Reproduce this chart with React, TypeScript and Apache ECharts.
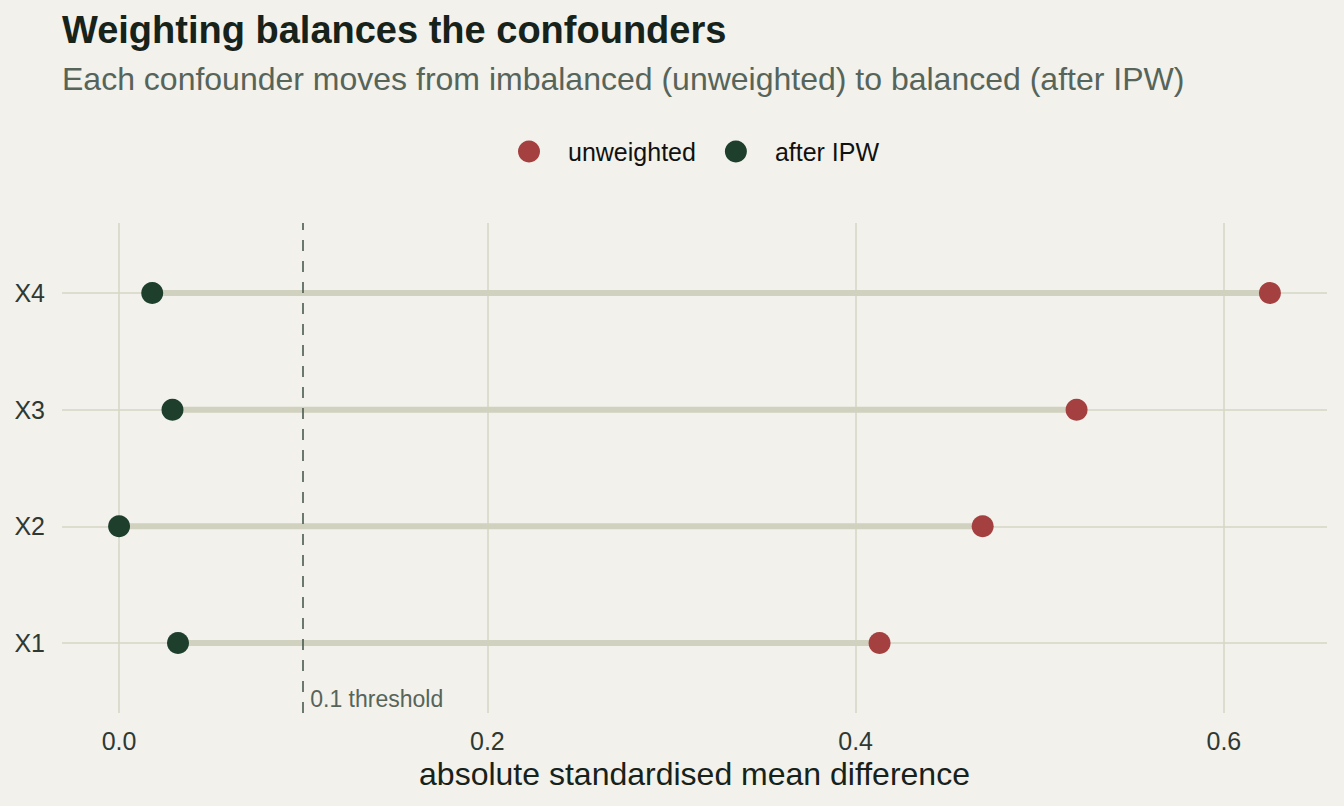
import React, { useEffect, useRef } from "react";
import * as echarts from "echarts";

const categories = ["X1", "X2", "X3", "X4"];
const unweighted = [0.413, 0.469, 0.52, 0.625];
const afterIPW = [0.032, 0.0, 0.029, 0.018];
const xTicks = [0, 0.2, 0.4, 0.6];
const threshold = 0.1;

const BG = "#f2f1eb";
const RED = "#a54040";
const GREEN = "#1f3f2d";
const SEG = "#d1d1bf";
const GRID = "#d6d6c6";
const FONT = "'Liberation Sans', Arial, Helvetica, sans-serif";

export default function App() {
  const ref = useRef<HTMLDivElement>(null);
  useEffect(() => {
    if (!ref.current) return;
    const chart = echarts.init(ref.current, null, { renderer: "svg" });
    const yIdx = categories.map((_, i) => i + 1);
    const segData = categories.map((_, i) => [afterIPW[i], unweighted[i], i + 1]);
    const option: any = {
      animation: false,
      backgroundColor: BG,
      textStyle: { fontFamily: FONT },
      title: [
        {
          text: "Weighting balances the confounders",
          left: 62,
          top: 11,
          padding: 0,
          textStyle: { fontFamily: FONT, fontSize: 38, fontWeight: "bold", color: "#16221a" },
        },
        {
          text: "Each confounder moves from imbalanced (unweighted) to balanced (after IPW)",
          left: 62,
          top: 63,
          padding: 0,
          textStyle: { fontFamily: FONT, fontSize: 32, fontWeight: "normal", color: "#56645a" },
        },
      ],
      legend: {
        top: 139,
        left: 518,
        padding: 0,
        icon: "circle",
        itemWidth: 22,
        itemHeight: 22,
        itemGap: 29,
        data: ["unweighted", "after IPW"],
        textStyle: { fontFamily: FONT, fontSize: 25, color: "#111", padding: [0, 0, 0, 23] },
      },
      grid: { left: 62, right: 17, top: 223, bottom: 93, containLabel: false },
      xAxis: {
        type: "value",
        min: -0.031,
        max: 0.656,
        name: "absolute standardised mean difference",
        nameLocation: "middle",
        nameGap: 45,
        nameTextStyle: { fontFamily: FONT, fontSize: 32, color: "#16221a" },
        axisLine: { show: false },
        axisTick: { show: false, customValues: xTicks },
        axisLabel: {
          customValues: xTicks,
          margin: 15,
          fontFamily: FONT,
          fontSize: 25,
          color: "#2e3933",
          formatter: (v: number) => v.toFixed(1),
        },
        splitLine: { show: true, lineStyle: { color: GRID, width: 1.5 } },
      },
      yAxis: {
        type: "value",
        min: 0.4,
        max: 4.6,
        axisLine: { show: false },
        axisTick: { show: false, customValues: yIdx },
        axisLabel: {
          customValues: yIdx,
          margin: 17,
          fontFamily: FONT,
          fontSize: 25,
          color: "#2e3933",
          formatter: (v: number) => categories[Math.round(v) - 1] ?? "",
        },
        splitLine: { show: true, lineStyle: { color: GRID, width: 1.5 } },
      },
      series: [
        {
          type: "custom",
          name: "segments",
          silent: true,
          data: segData,
          renderItem: (params: any, api: any) => {
            const a = api.coord([api.value(0), api.value(2)]);
            const b = api.coord([api.value(1), api.value(2)]);
            return {
              type: "line",
              shape: { x1: a[0], y1: a[1], x2: b[0], y2: b[1] },
              style: { stroke: SEG, lineWidth: 6 },
            };
          },
          markLine: {
            silent: true,
            symbol: "none",
            label: { show: false },
            lineStyle: { color: "#4a5a50", type: [11, 10], width: 1.6 },
            data: [{ xAxis: threshold }],
          },
          z: 2,
        },
        {
          type: "scatter",
          name: "unweighted",
          symbolSize: 22,
          itemStyle: { color: RED, opacity: 1 },
          data: categories.map((_, i) => [unweighted[i], i + 1]),
          z: 3,
        },
        {
          type: "scatter",
          name: "after IPW",
          symbolSize: 22,
          itemStyle: { color: GREEN, opacity: 1 },
          data: categories.map((_, i) => [afterIPW[i], i + 1]),
          z: 3,
        },
      ],
    };
    chart.setOption(option);
    const p = chart.convertToPixel({ gridIndex: 0 }, [threshold, 0.4]) as number[];
    chart.setOption({
      graphic: [
        {
          type: "text",
          x: p[0] + 7,
          y: p[1] - 3,
          style: {
            text: "0.1 threshold",
            fontFamily: FONT,
            fontSize: 23,
            fill: "#56645a",
            verticalAlign: "bottom",
            align: "left",
          },
        },
      ],
    });
    return () => chart.dispose();
  }, []);
  return (
    <div
      ref={ref}
      style={{ position: "fixed", left: 0, top: 0, width: 1344, height: 806, background: BG }}
    />
  );
}
